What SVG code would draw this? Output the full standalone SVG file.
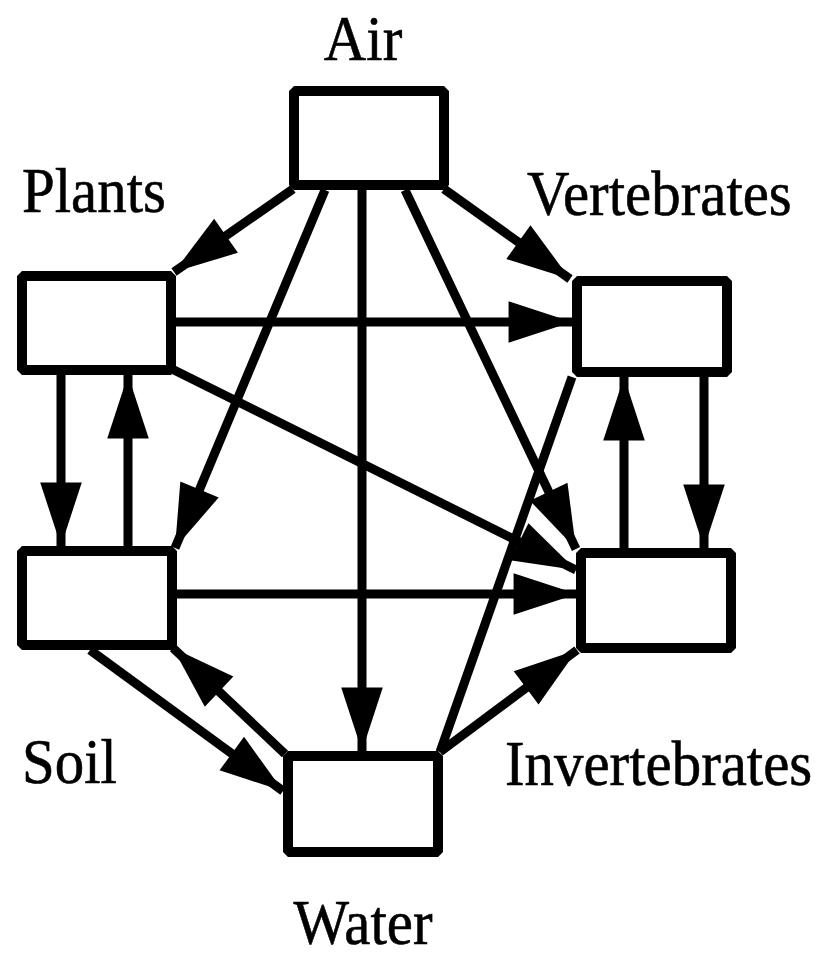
<svg xmlns="http://www.w3.org/2000/svg" width="819" height="953" viewBox="0 0 819 953">
<style>
.box{fill:#fff;stroke:#000;stroke-width:10;stroke-linejoin:bevel}
.c{stroke:#000;stroke-width:9;fill:none}
.a{marker-end:url(#ah)}
text{font-family:"Liberation Serif","Times New Roman",serif;font-size:64px;fill:#000;stroke:#000;stroke-width:0.6}
</style>
<defs>
<marker id="ah" markerUnits="userSpaceOnUse" orient="auto" markerWidth="70" markerHeight="50" refX="0" refY="0" viewBox="-62 -22 64 44" overflow="visible">
<path d="M0,0 L-58,-19 L-58,19 Z" fill="#000"/>
</marker>
</defs>
<rect width="819" height="953" fill="#fff"/>
<g id="connectors">
<line class="c a" x1="293" y1="189" x2="174" y2="272"/>
<line class="c a" x1="444" y1="189" x2="570" y2="279"/>
<line class="c a" x1="325" y1="190" x2="175" y2="548"/>
<line class="c a" x1="362" y1="190" x2="362" y2="751"/>
<line class="c a" x1="405" y1="190" x2="576" y2="549"/>
<line class="c a" x1="176" y1="322" x2="572" y2="322"/>
<line class="c a" x1="174" y1="370" x2="576" y2="570"/>
<line class="c a" x1="61" y1="375" x2="61" y2="546"/>
<line class="c a" x1="128" y1="546" x2="128" y2="375"/>
<line class="c a" x1="177" y1="594" x2="577" y2="594"/>
<line class="c a" x1="90" y1="650" x2="283" y2="791"/>
<line class="c a" x1="285" y1="754" x2="173" y2="648"/>
<line class="c a" x1="440" y1="752" x2="577" y2="650"/>
<line class="c" x1="440" y1="752" x2="572" y2="377"/>
<line class="c a" x1="624" y1="548" x2="624" y2="377"/>
<line class="c a" x1="704" y1="377" x2="704" y2="548"/>
</g>
<g id="air"><rect class="box" x="294" y="91" width="150" height="94"/><text transform="translate(363,60) scale(0.92,1)" text-anchor="middle">Air</text></g>
<g id="plants"><rect class="box" x="22" y="276" width="149" height="94"/><text transform="translate(22,212) scale(0.92,1)">Plants</text></g>
<g id="vertebrates"><rect class="box" x="577" y="281" width="150" height="91"/><text transform="translate(527,215) scale(0.92,1)">Vertebrates</text></g>
<g id="soil"><rect class="box" x="22" y="551" width="150" height="94"/><text transform="translate(22,783) scale(0.92,1)">Soil</text></g>
<g id="invertebrates"><rect class="box" x="581" y="553" width="150" height="95"/><text transform="translate(505,785) scale(0.92,1)">Invertebrates</text></g>
<g id="water"><rect class="box" x="288" y="756" width="150" height="96"/><text transform="translate(363,944) scale(0.92,1)" text-anchor="middle">Water</text></g>
</svg>
